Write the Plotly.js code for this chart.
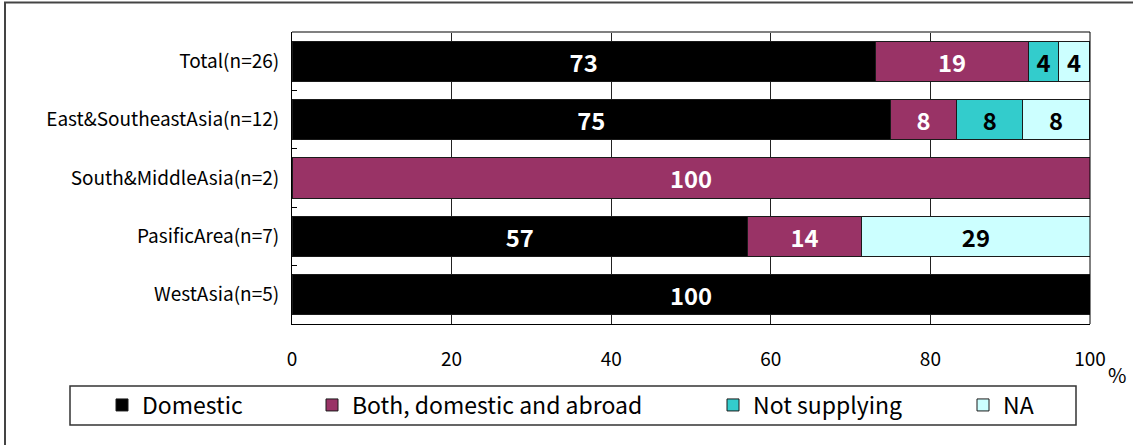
<!DOCTYPE html>
<html>
<head>
<meta charset="utf-8">
<script src="https://cdn.plot.ly/plotly-3.0.1.min.js"></script>
<style>
html,body{margin:0;padding:0;background:#fff;}
#chart{width:1133px;height:445px;}
</style>
</head>
<body>
<div id="chart"></div>
<script>
// ---- data ----
const categories = ["Total(n=26)", "East&SoutheastAsia(n=12)", "South&MiddleAsia(n=2)", "PasificArea(n=7)", "WestAsia(n=5)"];
const domestic      = [73.1, 75.0, null, 57.1, 100];
const bothDomAbroad = [19.2, 8.3, 100, 14.3, null];
const notSupplying  = [3.8, 8.3, null, null, null];
const naValues      = [3.8, 8.3, null, 28.6, null];
const seriesNames   = ["Domestic", "Both, domestic and abroad", "Not supplying", "NA"];
const seriesColors  = ["#000000", "#993366", "#33CCCC", "#CCFFFF"];
const labelColors   = ["#ffffff", "#ffffff", "#000000", "#000000"];
const xTicks        = [0, 20, 40, 60, 80, 100];

const FONT = "Noto Sans CJK JP, Noto Sans, sans-serif";
const seriesValues = [domestic, bothDomAbroad, notSupplying, naValues];
const legendIds = ["legend", "legend2", "legend3", "legend4"];

const traces = seriesValues.map((vals, i) => ({
  type: "bar",
  orientation: "h",
  name: seriesNames[i],
  y: categories,
  x: vals,
  marker: {color: seriesColors[i], line: {color: "#1a1a1a", width: 1}},
  texttemplate: "%{x:.0f}",
  textposition: "inside",
  insidetextanchor: "middle",
  textangle: 0,
  insidetextfont: {family: FONT, size: 25, color: labelColors[i], weight: "bold"},
  legend: legendIds[i],
  hoverinfo: "skip"
}));

// plot area in pixels: x 292..1090, y 32..324
const L = 292, R = 1090, T = 32, B = 324;
const px = v => (v - L) / (R - L);
const py = v => (B - v) / (B - T);

const legendCommon = {
  orientation: "h",
  xanchor: "left",
  yanchor: "middle",
  y: py(405),
  bgcolor: "rgba(0,0,0,0)",
  borderwidth: 0,
  font: {family: FONT, size: 23, color: "#000"},
  itemclick: false
};
const legendTextStarts = [142, 352, 753, 1003];
const legends = {};
legendIds.forEach((id, i) => {
  legends[id] = Object.assign({}, legendCommon, {x: px(legendTextStarts[i] - 40)});
});

const layout = Object.assign({
  width: 1133,
  height: 445,
  margin: {l: L, r: 1133 - R, t: T, b: 445 - B},
  paper_bgcolor: "#ffffff",
  plot_bgcolor: "#ffffff",
  barmode: "stack",
  bargap: 0.31,
  showlegend: true,
  font: {family: FONT, size: 19, color: "#000"},
  xaxis: {
    range: [0, 100],
    tickvals: xTicks,
    ticktext: xTicks.map(String),
    ticks: "",
    ticklabelstandoff: 18,
    showgrid: true,
    gridcolor: "#222",
    gridwidth: 1,
    zeroline: false,
    showline: true,
    linecolor: "#000",
    linewidth: 1,
    tickfont: {family: FONT, size: 19, color: "#000"},
    fixedrange: true
  },
  yaxis: {
    type: "category",
    autorange: "reversed",
    tickson: "boundaries",
    ticks: "inside",
    ticklen: 5,
    tickcolor: "#000",
    ticklabelstandoff: 8,
    showgrid: false,
    showline: true,
    linecolor: "#000",
    linewidth: 1,
    tickfont: {family: FONT, size: 19, color: "#000"},
    fixedrange: true
  },
  shapes: [
    // plot area top (gray) and right edge
    {type: "line", xref: "paper", yref: "paper", x0: 0, x1: 1, y0: 1, y1: 1, line: {color: "#808080", width: 2}},
    {type: "line", xref: "paper", yref: "paper", x0: 1, x1: 1, y0: 0, y1: 1, line: {color: "#000", width: 1}},
    // legend box
    {type: "rect", xref: "paper", yref: "paper", x0: px(70), x1: px(1076), y0: py(425), y1: py(386),
     line: {color: "#333", width: 1.5}, fillcolor: "rgba(0,0,0,0)"},
    // outer frame (top and left)
    {type: "path", xref: "paper", yref: "paper",
     path: `M ${px(5)} ${py(460)} L ${px(5)} ${py(2.5)} L ${px(1140)} ${py(2.5)}`,
     line: {color: "#444", width: 2}}
  ],
  annotations: [
    {text: "%", xref: "paper", yref: "paper", x: px(1106), y: py(374), xanchor: "left", yanchor: "middle",
     showarrow: false, font: {family: FONT, size: 20, color: "#000"}}
  ]
}, legends);

Plotly.newPlot("chart", traces, layout, {displayModeBar: false, staticPlot: true});
</script>
</body>
</html>
